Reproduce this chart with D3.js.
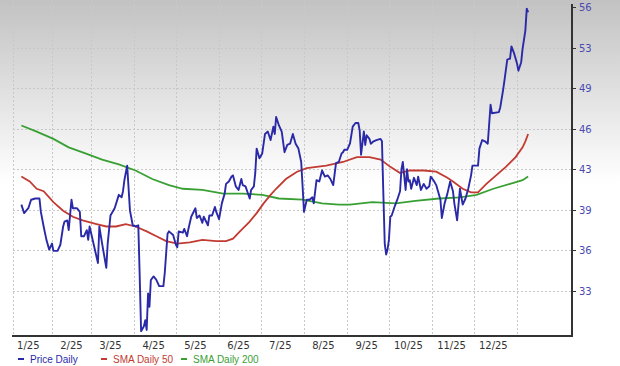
<!DOCTYPE html>
<html>
<head>
<meta charset="utf-8">
<script src="https://cdn.jsdelivr.net/npm/d3@7"></script>
<style>
  body { margin: 0; background: #fff; }
  svg { display: block; }
  .grid line { stroke: #c8c8c8; stroke-dasharray: 2,2; shape-rendering: crispEdges; }
  .tick-y { font: 10px "DejaVu Sans", sans-serif; fill: #4a4ab0; }
  .tick-x { font: 10px "DejaVu Sans", sans-serif; fill: #333; }
  .legend { font: 10px "Liberation Sans", Arial, sans-serif; }
</style>
</head>
<body>
<script>
// values
var priceDaily = [
  ["2025-01-10", 40.1], ["2025-01-12", 39.4], ["2025-01-15", 39.8], ["2025-01-17", 40.5],
  ["2025-01-20", 40.6], ["2025-01-23", 40.6], ["2025-01-24", 39.5], ["2025-01-26", 38.3],
  ["2025-01-28", 37.2], ["2025-01-30", 36.4], ["2025-02-01", 36.9], ["2025-02-02", 36.3],
  ["2025-02-05", 36.3], ["2025-02-07", 36.8], ["2025-02-09", 38.3], ["2025-02-10", 38.7],
  ["2025-02-12", 38.8], ["2025-02-13", 38.0], ["2025-02-15", 40.5], ["2025-02-16", 39.8],
  ["2025-02-19", 39.8], ["2025-02-21", 39.5], ["2025-02-22", 37.5], ["2025-02-24", 37.5],
  ["2025-02-26", 38.0], ["2025-02-27", 37.2], ["2025-02-28", 38.3], ["2025-03-03", 36.8],
  ["2025-03-06", 35.3], ["2025-03-07", 38.3], ["2025-03-09", 36.9], ["2025-03-12", 34.9],
  ["2025-03-13", 36.9], ["2025-03-15", 39.2], ["2025-03-18", 39.8], ["2025-03-21", 40.9],
  ["2025-03-23", 40.7], ["2025-03-24", 41.2], ["2025-03-25", 42.1], ["2025-03-27", 43.3],
  ["2025-03-29", 39.6], ["2025-03-31", 38.4], ["2025-04-02", 38.3], ["2025-04-04", 38.4],
  ["2025-04-05", 34.2], ["2025-04-06", 29.7], ["2025-04-08", 30.1], ["2025-04-09", 30.6],
  ["2025-04-10", 29.8], ["2025-04-11", 32.8], ["2025-04-12", 31.7], ["2025-04-13", 33.9],
  ["2025-04-15", 34.2], ["2025-04-17", 33.9], ["2025-04-19", 33.4], ["2025-04-22", 33.4],
  ["2025-04-23", 34.5], ["2025-04-25", 37.7], ["2025-04-26", 37.9], ["2025-04-29", 37.6],
  ["2025-05-01", 36.8], ["2025-05-02", 36.6], ["2025-05-03", 37.9], ["2025-05-06", 37.8],
  ["2025-05-07", 38.1], ["2025-05-09", 37.5], ["2025-05-10", 38.1], ["2025-05-12", 39.1],
  ["2025-05-15", 39.8], ["2025-05-16", 39.0], ["2025-05-18", 39.2], ["2025-05-20", 38.6],
  ["2025-05-21", 39.1], ["2025-05-24", 38.4], ["2025-05-25", 39.2], ["2025-05-27", 39.2],
  ["2025-05-29", 39.9], ["2025-05-30", 39.5], ["2025-06-01", 38.9], ["2025-06-03", 40.2],
  ["2025-06-05", 41.0], ["2025-06-06", 41.8], ["2025-06-08", 42.0], ["2025-06-10", 42.4],
  ["2025-06-11", 42.5], ["2025-06-13", 41.6], ["2025-06-15", 41.3], ["2025-06-17", 42.2],
  ["2025-06-18", 41.7], ["2025-06-20", 41.6], ["2025-06-23", 40.6], ["2025-06-24", 41.3],
  ["2025-06-26", 41.6], ["2025-06-27", 42.7], ["2025-06-28", 44.7], ["2025-06-30", 43.9],
  ["2025-07-02", 44.3], ["2025-07-04", 45.9], ["2025-07-06", 46.1], ["2025-07-08", 45.4],
  ["2025-07-10", 46.5], ["2025-07-11", 45.9], ["2025-07-12", 47.3], ["2025-07-14", 46.6],
  ["2025-07-16", 46.1], ["2025-07-18", 44.4], ["2025-07-20", 45.0], ["2025-07-22", 45.1],
  ["2025-07-24", 45.9], ["2025-07-26", 45.1], ["2025-07-28", 44.7], ["2025-07-30", 43.6],
  ["2025-07-31", 41.6], ["2025-08-01", 39.5], ["2025-08-03", 40.5], ["2025-08-05", 40.5],
  ["2025-08-07", 40.7], ["2025-08-08", 40.2], ["2025-08-10", 42.1], ["2025-08-12", 42.0],
  ["2025-08-14", 42.9], ["2025-08-16", 42.4], ["2025-08-18", 42.5], ["2025-08-20", 42.2],
  ["2025-08-22", 41.7], ["2025-08-24", 43.5], ["2025-08-26", 43.6], ["2025-08-28", 44.3],
  ["2025-08-29", 44.4], ["2025-08-30", 44.6], ["2025-09-01", 44.6], ["2025-09-03", 45.1],
  ["2025-09-05", 46.5], ["2025-09-07", 46.8], ["2025-09-09", 46.8], ["2025-09-10", 46.2],
  ["2025-09-11", 44.2], ["2025-09-13", 46.1], ["2025-09-14", 45.0], ["2025-09-15", 45.8],
  ["2025-09-17", 45.5], ["2025-09-18", 45.1], ["2025-09-20", 45.3], ["2025-09-22", 45.4],
  ["2025-09-25", 45.5], ["2025-09-26", 45.3], ["2025-09-27", 41.0], ["2025-09-28", 36.9],
  ["2025-09-29", 36.0], ["2025-09-30", 36.4], ["2025-10-01", 37.2], ["2025-10-02", 39.1],
  ["2025-10-03", 39.2], ["2025-10-05", 39.9], ["2025-10-07", 40.5], ["2025-10-09", 41.2],
  ["2025-10-10", 43.0], ["2025-10-11", 43.6], ["2025-10-13", 41.3], ["2025-10-14", 43.0],
  ["2025-10-15", 42.0], ["2025-10-16", 42.1], ["2025-10-17", 41.4], ["2025-10-19", 42.3],
  ["2025-10-21", 41.7], ["2025-10-22", 42.4], ["2025-10-24", 41.3], ["2025-10-26", 41.8],
  ["2025-10-28", 41.4], ["2025-10-30", 41.6], ["2025-10-31", 42.4], ["2025-11-02", 42.1],
  ["2025-11-04", 41.7], ["2025-11-05", 41.3], ["2025-11-07", 40.5], ["2025-11-08", 39.0],
  ["2025-11-10", 40.2], ["2025-11-12", 41.0], ["2025-11-14", 42.0], ["2025-11-16", 41.2],
  ["2025-11-17", 40.2], ["2025-11-19", 38.8], ["2025-11-21", 41.4], ["2025-11-23", 40.1],
  ["2025-11-25", 40.6], ["2025-11-27", 41.4], ["2025-11-29", 42.5], ["2025-11-30", 43.3],
  ["2025-12-04", 43.3], ["2025-12-05", 44.7], ["2025-12-07", 45.4], ["2025-12-09", 45.3],
  ["2025-12-11", 45.1], ["2025-12-13", 48.3], ["2025-12-14", 47.6], ["2025-12-19", 47.7],
  ["2025-12-20", 48.1], ["2025-12-22", 49.5], ["2025-12-23", 50.3], ["2025-12-25", 52.0],
  ["2025-12-27", 52.1], ["2025-12-28", 53.1], ["2025-12-30", 52.5], ["2026-01-01", 51.7],
  ["2026-01-02", 51.1], ["2026-01-04", 51.8], ["2026-01-05", 52.9], ["2026-01-07", 54.4],
  ["2026-01-08", 56.2], ["2026-01-09", 55.9]
];

var sma50 = [
  ["2025-01-10", 42.4], ["2025-01-16", 42.0], ["2025-01-21", 41.4], ["2025-01-26", 41.2],
  ["2025-02-02", 40.3], ["2025-02-09", 39.6], ["2025-02-16", 39.1], ["2025-02-23", 38.8],
  ["2025-03-05", 38.5], ["2025-03-12", 38.3], ["2025-03-19", 38.3], ["2025-03-26", 38.5],
  ["2025-04-02", 38.3], ["2025-04-10", 37.9], ["2025-04-17", 37.5], ["2025-04-24", 37.1],
  ["2025-05-02", 36.9], ["2025-05-11", 37.0], ["2025-05-20", 37.2], ["2025-05-30", 37.1],
  ["2025-06-06", 37.1], ["2025-06-11", 37.3], ["2025-06-16", 37.9], ["2025-06-23", 38.7],
  ["2025-06-28", 39.4], ["2025-07-03", 40.2], ["2025-07-08", 40.9], ["2025-07-12", 41.4],
  ["2025-07-19", 42.2], ["2025-07-27", 42.8], ["2025-08-03", 43.1], ["2025-08-10", 43.2],
  ["2025-08-17", 43.3], ["2025-08-29", 43.6], ["2025-09-08", 44.0], ["2025-09-17", 44.0],
  ["2025-09-25", 43.8], ["2025-10-02", 43.2], ["2025-10-09", 42.7], ["2025-10-16", 42.9],
  ["2025-10-26", 42.9], ["2025-11-04", 42.8], ["2025-11-12", 42.3], ["2025-11-16", 42.0],
  ["2025-11-23", 41.4], ["2025-11-29", 41.1], ["2025-12-04", 41.1], ["2025-12-10", 41.8],
  ["2025-12-17", 42.5], ["2025-12-24", 43.2], ["2025-12-31", 44.0], ["2026-01-05", 44.8],
  ["2026-01-07", 45.3], ["2026-01-09", 45.9]
];

var sma200 = [
  ["2025-01-10", 46.6], ["2025-01-21", 46.1], ["2025-02-02", 45.5], ["2025-02-13", 44.8],
  ["2025-02-25", 44.3], ["2025-03-09", 43.8], ["2025-03-21", 43.4], ["2025-04-02", 42.9],
  ["2025-04-14", 42.2], ["2025-04-26", 41.7], ["2025-05-06", 41.4], ["2025-05-20", 41.3],
  ["2025-06-04", 41.0], ["2025-06-18", 41.0], ["2025-07-02", 40.9], ["2025-07-14", 40.6],
  ["2025-07-31", 40.5], ["2025-08-14", 40.2], ["2025-08-26", 40.1], ["2025-09-03", 40.1],
  ["2025-09-19", 40.3], ["2025-10-06", 40.2], ["2025-10-20", 40.4], ["2025-11-06", 40.6],
  ["2025-11-21", 40.7], ["2025-12-03", 40.9], ["2025-12-15", 41.4], ["2025-12-27", 41.8],
  ["2026-01-05", 42.1], ["2026-01-09", 42.4]
];

var monthLabels = ["1/25", "2/25", "3/25", "4/25", "5/25", "6/25",
                   "7/25", "8/25", "9/25", "10/25", "11/25", "12/25"];
var yTickValues = [33, 36.333, 39.667, 43, 46.333, 49.667, 53, 56.333];
var yTickLabels = ["33", "36", "39", "43", "46", "49", "53", "56"];

var legendItems = [
  { name: "Price Daily", color: "#2a2aa8" },
  { name: "SMA Daily 50", color: "#c23b32" },
  { name: "SMA Daily 200", color: "#38a033" }
];

var W = 620, H = 366;
var plot = { left: 13, right: 572, top: 0, bottom: 336 };
var parse = d3.timeParse("%Y-%m-%d");

var x = d3.scaleTime()
  .domain([new Date(2025, 0, 1), new Date(2026, 0, 1)])
  .range([8.84, 517]);
var y = d3.scaleLinear().domain([33, 56.333]).range([291, 7]);

var svg = d3.select("body").append("svg").attr("width", W).attr("height", H);

var grad = svg.append("defs").append("linearGradient")
  .attr("id", "bg").attr("x1", 0).attr("y1", 0).attr("x2", 0).attr("y2", 1);
grad.append("stop").attr("offset", "0%").attr("stop-color", "#c2c2c2");
grad.append("stop").attr("offset", "50%").attr("stop-color", "#ffffff");
grad.append("stop").attr("offset", "100%").attr("stop-color", "#ffffff");
svg.append("rect").attr("width", W).attr("height", H).attr("fill", "url(#bg)");

// grid
var grid = svg.append("g").attr("class", "grid");
grid.selectAll(".h").data(yTickValues).enter().append("line")
  .attr("x1", plot.left).attr("x2", plot.right)
  .attr("y1", function (d) { return Math.round(y(d)) + 0.5; })
  .attr("y2", function (d) { return Math.round(y(d)) + 0.5; });
var months = d3.timeMonth.range(new Date(2025, 1, 1), new Date(2026, 0, 2));
grid.selectAll(".v").data(months).enter().append("line")
  .attr("x1", function (d) { return Math.round(x(d)) + 0.5; })
  .attr("x2", function (d) { return Math.round(x(d)) + 0.5; })
  .attr("y1", plot.top).attr("y2", plot.bottom);
grid.append("line")
  .attr("x1", plot.left + 0.5).attr("x2", plot.left + 0.5)
  .attr("y1", plot.top).attr("y2", plot.bottom);

// series
function lineOf(data) {
  return d3.line()
    .x(function (d) { return x(parse(d[0])); })
    .y(function (d) { return y(d[1]); })(data);
}
svg.append("path").attr("d", lineOf(sma200)).attr("fill", "none")
  .attr("stroke", legendItems[2].color).attr("stroke-width", 1.8);
svg.append("path").attr("d", lineOf(sma50)).attr("fill", "none")
  .attr("stroke", legendItems[1].color).attr("stroke-width", 1.8);
svg.append("path").attr("d", lineOf(priceDaily)).attr("fill", "none")
  .attr("stroke", legendItems[0].color).attr("stroke-width", 1.9)
  .attr("stroke-linejoin", "round");

// frame: right axis and bottom line
svg.append("line").attr("x1", plot.right).attr("x2", plot.right)
  .attr("y1", 4).attr("y2", plot.bottom + 1)
  .attr("stroke", "#333").attr("stroke-width", 2);
svg.append("line").attr("x1", plot.left - 1).attr("x2", plot.right + 1)
  .attr("y1", plot.bottom).attr("y2", plot.bottom)
  .attr("stroke", "#333").attr("stroke-width", 2);

// y axis ticks and labels
var yt = svg.append("g").selectAll("g").data(yTickValues).enter().append("g")
  .attr("transform", function (d) { return "translate(" + plot.right + "," + Math.round(y(d)) + ")"; });
yt.append("line").attr("x1", 0).attr("x2", 4).attr("y1", 0.5).attr("y2", 0.5)
  .attr("stroke", "#333");
yt.append("text").attr("class", "tick-y").attr("x", 7).attr("dy", "0.35em")
  .text(function (d, i) { return yTickLabels[i]; });

// x labels at mid-month
svg.append("g").selectAll("text").data(monthLabels).enter().append("text")
  .attr("class", "tick-x")
  .attr("x", function (d, i) { return x(new Date(2025, i, 15)); })
  .attr("y", 349).attr("text-anchor", "middle")
  .text(function (d) { return d; });

// legend
var legendX = [18, 101, 181];
var lg = svg.append("g").selectAll("g").data(legendItems).enter().append("g")
  .attr("transform", function (d, i) { return "translate(" + legendX[i] + ",359)"; });
lg.append("line").attr("x1", 0).attr("x2", 6).attr("y1", 0).attr("y2", 0)
  .attr("stroke", function (d) { return d.color; }).attr("stroke-width", 2);
lg.append("text").attr("class", "legend").attr("x", 12).attr("dy", "0.35em")
  .attr("fill", function (d) { return d.color; })
  .text(function (d) { return d.name; });
</script>
</body>
</html>
